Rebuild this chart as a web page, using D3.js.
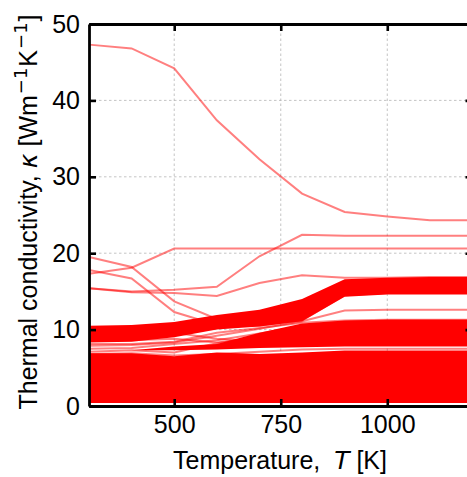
<!DOCTYPE html>
<html>
<head>
<meta charset="utf-8">
<script src="https://cdn.jsdelivr.net/npm/d3@7"></script>
<style>
  body { margin: 0; background: #fff; }
  text { font-family: "Liberation Sans", Arial, sans-serif; fill: #000; white-space: pre; }
  .math { font-family: "DejaVu Sans", sans-serif; }
</style>
</head>
<body>
<div id="chart"></div>
<script>
// temperatures where every curve is sampled
const temps = [300, 400, 500, 600, 700, 800, 900, 1000, 1100, 1200];

// single curves that stand out (kappa, W/mK)
const lineA = [47.3, 46.8, 44.2, 37.4, 32.3, 27.8, 25.4, 24.8, 24.3, 24.3];
const lineB = [17.3, 18.1, 20.6, 20.6, 20.6, 20.6, 20.6, 20.6, 20.6, 20.6];
const lineC = [19.5, 18.2, 13.7, 11.4, 11.8, 12.5, 15.0, 15.3, 15.4, 15.4];
const lineD = [17.8, 16.7, 12.3, 10.6, 10.5, 11.2, 14.5, 14.8, 14.8, 14.8];
const lineE = [15.4, 15.0, 15.2, 15.6, 19.6, 22.4, 22.3, 22.3, 22.3, 22.3];
const lineF = [15.4, 14.9, 14.8, 14.4, 16.1, 17.1, 16.8, 16.8, 16.9, 16.9];
const lineG = [7.9, 8.0, 8.3, 9.2, 10.1, 11.1, 12.5, 12.6, 12.6, 12.6];
const lineH = [8.1, 8.1, 8.4, 9.6, 10.2, 10.9, 11.2, 11.3, 11.3, 11.3];
const lineI = [7.5, 7.6, 8.1, 8.6, 9.5, 10.4, 11.0, 11.2, 11.2, 11.2];
const lineJ = [7.1, 7.3, 7.0, 8.2, 9.0, 9.9, 10.6, 10.8, 10.9, 10.9];
const lineK = [9.0, 9.1, 9.6, 8.8, 8.4, 9.0, 9.4, 9.5, 9.5, 9.5];
const lineL = [8.5, 8.6, 8.8, 8.3, 8.9, 9.6, 10.2, 10.4, 10.4, 10.4];
const lineM = [6.8, 6.9, 6.6, 6.8, 7.1, 7.4, 7.5, 7.5, 7.5, 7.5];

// edges of the bundles where hundreds of curves overlap
const topBandLow   = [8.3, 8.4, 9.0, 10.0, 10.4, 11.1, 14.3, 14.6, 14.6, 14.6];
const topBandHigh  = [10.5, 10.6, 11.0, 11.9, 12.6, 14.0, 16.6, 16.8, 16.9, 16.9];
const midBandLow   = [7.3, 7.3, 7.3, 7.4, 7.6, 7.7, 7.8, 7.8, 7.8, 7.8];
const midBandHigh  = [7.3, 7.3, 7.8, 8.1, 9.6, 10.8, 11.2, 11.3, 11.3, 11.3];
const baseBandLow  = [0.4, 0.4, 0.4, 0.4, 0.4, 0.4, 0.4, 0.4, 0.4, 0.4];
const baseBandHigh = [6.9, 6.9, 6.5, 7.0, 6.8, 7.0, 7.25, 7.25, 7.25, 7.25];

const xTicks = [500, 750, 1000];
const yTicks = [0, 10, 20, 30, 40, 50];

const width = 467;
const height = 477;

const x = d3.scaleLinear().domain([300, 1200]).range([89, 472.5]);
const y = d3.scaleLinear().domain([0, 50]).range([406, 24]);

const svg = d3.select('#chart')
    .append('svg')
    .attr('width', width)
    .attr('height', height);

// dashed grid
const grid = svg.append('g');
grid.selectAll('.gx').data(xTicks).enter().append('line')
    .attr('x1', d => x(d)).attr('x2', d => x(d))
    .attr('y1', y(0)).attr('y2', y(50));
grid.selectAll('.gy').data(yTicks.slice(1, -1)).enter().append('line')
    .attr('x1', x(300)).attr('x2', x(1200))
    .attr('y1', d => y(d)).attr('y2', d => y(d));
grid.selectAll('line')
    .attr('stroke', '#b5b5b5')
    .attr('stroke-width', 0.8)
    .attr('stroke-dasharray', '2.5,2.5');

// solid bundles
const bands = [
    [baseBandLow, baseBandHigh],
    [midBandLow, midBandHigh],
    [topBandLow, topBandHigh]
];
const area = d3.area()
    .x((d, i) => x(temps[i]))
    .y0(d => y(d[0]))
    .y1(d => y(d[1]));
svg.append('g').selectAll('path')
    .data(bands.map(b => b[0].map((v, i) => [v, b[1][i]])))
    .enter().append('path')
    .attr('d', area)
    .attr('fill', '#ff0000');

// single curves, half transparent
const lines = [lineM, lineJ, lineI, lineG, lineH, lineL, lineK,
    lineF, lineE, lineD, lineC, lineB, lineA];
const line = d3.line()
    .x((d, i) => x(temps[i]))
    .y(d => y(d));
svg.append('g').selectAll('path')
    .data(lines)
    .enter().append('path')
    .attr('d', line)
    .attr('fill', 'none')
    .attr('stroke', '#ff0000')
    .attr('stroke-opacity', 0.5)
    .attr('stroke-width', 2);

// axes with inward ticks on all four sides
const xAxisB = d3.axisBottom(x).tickValues(xTicks).tickFormat(d3.format('d'))
    .tickSizeInner(-7).tickSizeOuter(0).tickPadding(9);
const xAxisT = d3.axisTop(x).tickValues(xTicks).tickSizeInner(-7).tickSizeOuter(0).tickFormat('');
const yAxisL = d3.axisLeft(y).tickValues(yTicks).tickSizeInner(-7).tickSizeOuter(0).tickPadding(9);
const yAxisR = d3.axisRight(y).tickValues(yTicks).tickSizeInner(-7).tickSizeOuter(0).tickFormat('');

const axes = [
    svg.append('g').attr('transform', `translate(0,${y(0)})`).call(xAxisB),
    svg.append('g').attr('transform', `translate(0,${y(50)})`).call(xAxisT),
    svg.append('g').attr('transform', `translate(${x(300)},0)`).call(yAxisL),
    svg.append('g').attr('transform', `translate(${x(1200)},0)`).call(yAxisR)
];
axes.forEach(g => {
    g.select('.domain').attr('stroke', '#000').attr('stroke-width', 2.8);
    g.selectAll('.tick line').attr('stroke', '#000').attr('stroke-width', 2.6);
    g.selectAll('.tick text')
        .style('font-family', '"Liberation Sans", Arial, sans-serif')
        .style('font-size', '25px')
        .attr('fill', '#000');
});

// axis titles
const xt = svg.append('text')
    .attr('x', 280).attr('y', 469)
    .attr('text-anchor', 'middle')
    .style('font-size', '25px');
xt.append('tspan').text('Temperature,  ');
xt.append('tspan').attr('class', 'math').style('font-style', 'italic').text('T');
xt.append('tspan').text(' [K]');

const yt = svg.append('text')
    .attr('transform', 'translate(37,212) rotate(-90)')
    .attr('text-anchor', 'middle')
    .style('font-size', '25px');
yt.append('tspan').text('Thermal conductivity, ');
yt.append('tspan').attr('class', 'math').style('font-style', 'italic').text('κ');
yt.append('tspan').text(' [Wm');
yt.append('tspan').attr('class', 'math').attr('dy', -10).attr('dx', 1).style('font-size', '18px').text('−1');
yt.append('tspan').attr('dy', 10).attr('dx', 1).text('K');
yt.append('tspan').attr('class', 'math').attr('dy', -10).attr('dx', 1).style('font-size', '18px').text('−1');
yt.append('tspan').attr('dy', 10).attr('dx', 1).text(']');
</script>
</body>
</html>
